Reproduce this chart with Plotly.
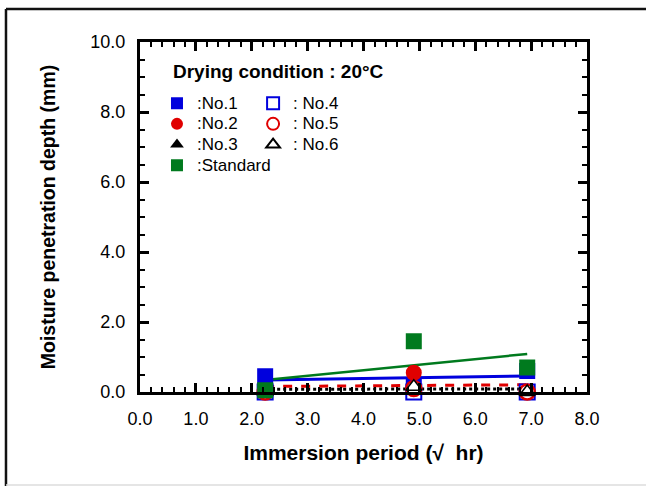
import numpy as np
import plotly.graph_objects as go

# ---- data ----
x_period = [2.24, 4.90, 6.93]          # sqrt(hr)
no1 = [0.45, 0.15, 0.60]
no2 = [0.00, 0.55, 0.00]
no3 = [0.05, 0.15, 0.05]
no4 = [0.00, 0.00, 0.00]
no5 = [0.00, 0.10, 0.00]
no6 = [0.00, 0.15, 0.00]
standard = [0.05, 1.45, 0.70]

x_ticks = [0, 1, 2, 3, 4, 5, 6, 7, 8]
y_ticks = [0, 2, 4, 6, 8, 10]

FONT = "Liberation Sans, Arial, sans-serif"
BLUE = "#0000dd"
RED = "#e00000"
GREEN = "#007a1e"
BLACK = "#000000"

fig = go.Figure()

# least-squares fit lines
def fit_line(xs, ys):
    k, b = np.polyfit(xs, ys, 1)
    xe = np.array([min(xs), max(xs)])
    return xe, k * xe + b

for ys, col, dash, w in [(no3, BLACK, "dot", 3), (no2, RED, "dash", 3),
                         (no1, BLUE, "solid", 3), (standard, GREEN, "solid", 2.5)]:
    xe, ye = fit_line(x_period, ys)
    fig.add_trace(go.Scatter(x=xe, y=ye, mode="lines", showlegend=False,
                             line=dict(color=col, width=w, dash=dash), hoverinfo="skip"))

def label(t):
    return "<span style='font-size:17px'>" + t + "</span>"

def pts(ys, name, symbol, fill, edge, size, legend, lw=0):
    fig.add_trace(go.Scatter(
        x=x_period, y=ys, mode="markers", name=label(name), legend=legend,
        cliponaxis=False,
        marker=dict(symbol=symbol, size=size, color=fill,
                    line=dict(color=edge, width=lw))))

pts(no1, ":No.1", "square", BLUE, BLUE, 16, "legend")
pts(no2, ":No.2", "circle", RED, RED, 16, "legend")
pts(no3, ":No.3", "triangle-up", BLACK, BLACK, 14, "legend")
pts(no4, ": No.4", "square", "white", BLUE, 15, "legend2", 2)
pts(no5, ": No.5", "circle", "white", RED, 15, "legend2", 2.5)
pts(no6, ": No.6", "triangle-up", "white", BLACK, 14, "legend2", 1.5)
pts(standard, ":Standard", "square", GREEN, GREEN, 16, "legend")

axis_common = dict(
    showline=True, linewidth=3, linecolor="black", mirror="ticks",
    ticks="inside", ticklen=9, tickwidth=2.5, tickcolor="black",
    showgrid=False, zeroline=False, tickformat=".1f",
    tickfont=dict(family=FONT, size=18, color="black"),
)

leg_common = dict(xanchor="left", yanchor="top", bgcolor="rgba(0,0,0,0)",
                  font=dict(size=13.6, family=FONT, color="black"), itemsizing="constant",
                  itemwidth=30, tracegroupgap=0, traceorder="normal")

fig.update_layout(
    width=646, height=486,
    margin=dict(l=140, r=59, t=42, b=94),
    paper_bgcolor="white", plot_bgcolor="white",
    font=dict(family=FONT, color="black"),
    xaxis=dict(range=[0, 8], tickvals=x_ticks, ticklabelstandoff=8,
               minor=dict(dtick=0.2, ticks="inside", ticklen=5, tickwidth=2, tickcolor="black"),
               title=dict(text="<b>Immersion period (√  hr)</b>", font=dict(size=21, family=FONT),
                          standoff=18),
               **axis_common),
    yaxis=dict(range=[0, 10], tickvals=y_ticks, ticklabelstandoff=8,
               minor=dict(dtick=0.5, ticks="inside", ticklen=5, tickwidth=2, tickcolor="black"),
               title=dict(text="<b>Moisture penetration depth (mm)</b>", font=dict(size=19.5, family=FONT),
                          standoff=30),
               **axis_common),
    legend=dict(x=0.038, y=0.869, **leg_common),
    legend2=dict(x=0.253, y=0.869, **leg_common),
    showlegend=True,
)

fig.add_annotation(text="<b>Drying condition : 20°C</b>", xref="paper", yref="paper",
                   x=0.070, y=0.915, xanchor="left", yanchor="middle", showarrow=False,
                   font=dict(size=19, family=FONT, color="black"))

# outer frame
fig.add_shape(type="line", xref="paper", yref="paper", x0=-0.2998, x1=-0.2998, y0=-0.27, y1=1.0943,
              line=dict(color="#111111", width=2.5))
fig.add_shape(type="line", xref="paper", yref="paper", x0=-0.2998, x1=1.14, y0=1.0943, y1=1.0943,
              line=dict(color="#111111", width=2.5))
fig.add_shape(type="line", xref="paper", yref="paper", x0=-0.2998, x1=1.14, y0=-0.2657, y1=-0.2657,
              line=dict(color="#dddddd", width=1.5))

fig.write_html("out.html")
